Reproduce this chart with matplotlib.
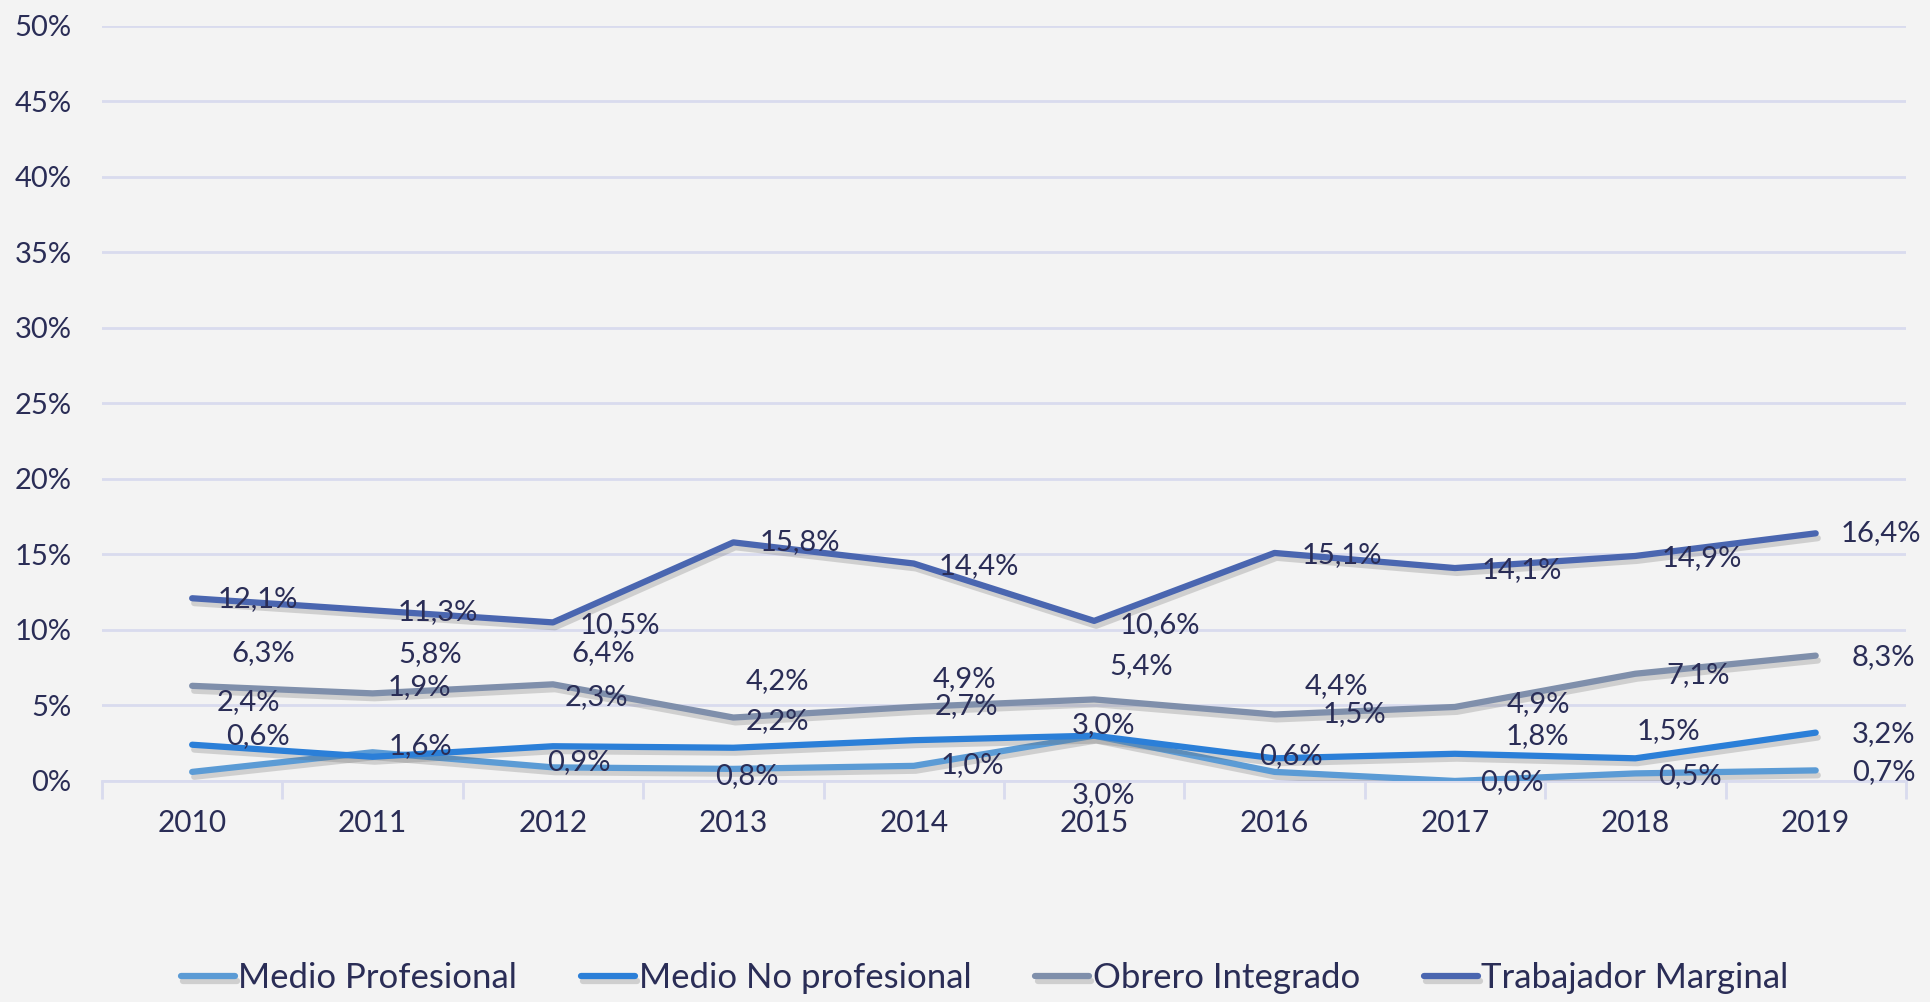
import matplotlib.pyplot as plt
import matplotlib.patheffects as pe

plt.rcParams['font.family'] = ['Lato', 'DejaVu Sans']

years = ['2010', '2011', '2012', '2013', '2014', '2015', '2016', '2017', '2018', '2019']
medio_prof = [0.6, 1.9, 0.9, 0.8, 1.0, 3.0, 0.6, 0.0, 0.5, 0.7]
medio_no_prof = [2.4, 1.6, 2.3, 2.2, 2.7, 3.0, 1.5, 1.8, 1.5, 3.2]
obrero = [6.3, 5.8, 6.4, 4.2, 4.9, 5.4, 4.4, 4.9, 7.1, 8.3]
marginal = [12.1, 11.3, 10.5, 15.8, 14.4, 10.6, 15.1, 14.1, 14.9, 16.4]
series_names = ['Medio Profesional', 'Medio No profesional', 'Obrero Integrado', 'Trabajador Marginal']
y_ticks = [0, 5, 10, 15, 20, 25, 30, 35, 40, 45, 50]

colores = ['#5b9bd5', '#2b7fd8', '#7f8fab', '#4a66b0']
txt = '#2a2d56'
bg = '#f3f3f3'

# desplazamiento de las etiquetas (px de la vista reducida)
off_prof = [(53, 29), (38, 53), (21, 4), (11, -6), (48, 1), (8, -48), (13, 13), (46, -1), (44, -2), (55, -1)]
off_noprof = [(46, 35), (39, 9), (35, 40), (36, 22), (43, 28), (8, 9), (65, 36), (67, 14), (27, 22), (55, -1)]
off_obrero = [(58, 27), (47, 32), (41, 25), (36, 30), (41, 23), (38, 27), (50, 23), (68, 2), (51, -1), (55, -1)]
off_marg = [(53, -1), (53, -1), (54, -2), (54, 0), (53, -2), (53, -3), (55, -2), (54, -2), (54, -2), (53, 0)]

fig = plt.figure(figsize=(19.31, 10.02), dpi=100, facecolor=bg)
ax = fig.add_axes([0.0528, 0.2206, 0.9342, 0.7535], facecolor=bg)

x = list(range(len(years)))
datos = [medio_prof, medio_no_prof, obrero, marginal]
offsets = [off_prof, off_noprof, off_obrero, off_marg]
sombra = [pe.SimpleLineShadow(offset=(1.5, -3.5), shadow_color='#666666', alpha=0.25), pe.Normal()]

lineas = []
for serie, nombre, c in zip(datos, series_names, colores):
    l, = ax.plot(x, serie, color=c, lw=4.5, label=nombre, solid_capstyle='round',
                 path_effects=sombra, zorder=3)
    lineas.append(l)

for serie, offs in zip(datos, offsets):
    for i, v in enumerate(serie):
        dx, dy = offs[i]
        ax.annotate(f'{v:.1f}%'.replace('.', ','), (i, v),
                    xytext=(dx * 0.887, dy * 0.887), textcoords='offset points',
                    ha='center', va='center', fontsize=21, color=txt, zorder=5)

ax.set_xlim(-0.5, 9.5)
ax.set_ylim(0, 50)
ax.set_yticks(y_ticks)
ax.set_yticklabels([f'{t}%' for t in y_ticks])
ax.set_xticks(x)
ax.set_xticklabels(years)
ax.set_xticks([i - 0.5 for i in range(len(years) + 1)], minor=True)
ax.grid(axis='y', color='#d9dbee', lw=2)
ax.set_axisbelow(True)
for s in ['top', 'right', 'left']:
    ax.spines[s].set_visible(False)
ax.spines['bottom'].set_color('#d9dbee')
ax.spines['bottom'].set_linewidth(2)
ax.tick_params(axis='y', length=0, pad=22, labelsize=21, labelcolor=txt)
ax.tick_params(axis='x', which='major', length=0, pad=20, labelsize=21.5, labelcolor=txt)
ax.tick_params(axis='x', which='minor', length=13, width=2, color='#d9dbee')

fig.legend(handles=lineas, loc='center', bbox_to_anchor=(0.51, 0.024), ncol=4,
           frameon=False, fontsize=25, labelcolor=txt, handlelength=1.55,
           handletextpad=0.1, columnspacing=1.85, borderpad=0)

fig.savefig('out.png', dpi=100, facecolor=bg)
